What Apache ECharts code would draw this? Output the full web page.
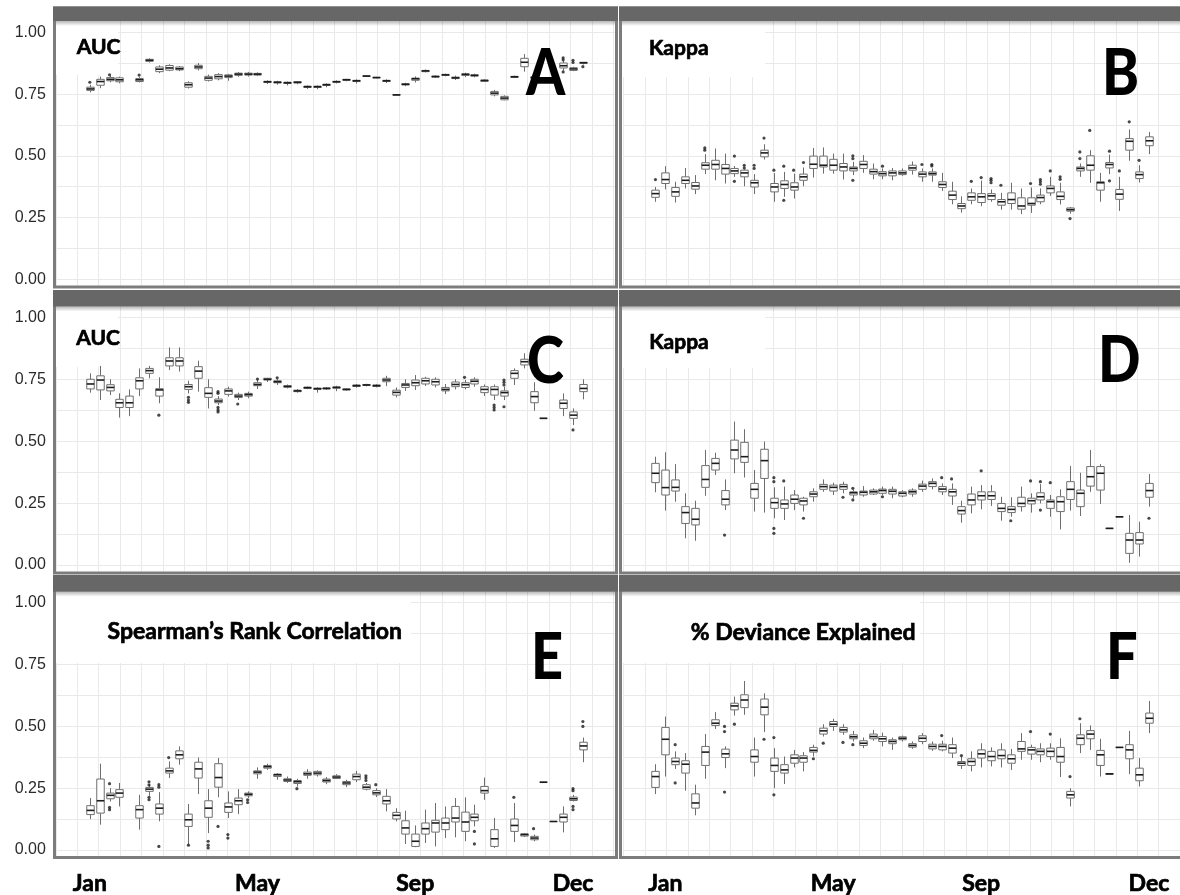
<!DOCTYPE html>
<html>
<head>
<meta charset="utf-8">
<script src="https://cdn.jsdelivr.net/npm/echarts@6/dist/echarts.min.js"></script>
<style>
html,body{margin:0;padding:0;background:#fff;}
#chart{width:1180px;height:895px;}
</style>
</head>
<body>
<div id="chart"></div>
<script>
// ---------------- DATA ----------------
const weeks = [1,2,3,4,5,6,7,8,9,10,11,12,13,14,15,16,17,18,19,20,21,22,23,24,25,26,27,28,29,30,31,32,33,34,35,36,37,38,39,40,41,42,43,44,45,46,47,48,49,50,51];
const monthLabels = ['Jan','May','Sep','Dec'];
const monthIdxLeft = [0,17,33,49];
const monthIdxRight = [1,18,33,50];
const yTickLabels = [0, 0.25, 0.5, 0.75, 1];
const panelTitles = ['AUC','Kappa','AUC','Kappa','Spearman\u2019s Rank Correlation','% Deviance Explained'];
const panelLetters = ['A','B','C','D','E','F'];

// each entry: [min, Q1, median, Q3, max] or null (no box that week)
const boxesA = [
[0.757,0.765,0.771,0.778,0.788],[0.774,0.786,0.801,0.810,0.821],[0.798,0.804,0.810,0.817,0.824],[0.794,0.800,0.808,0.816,0.821],null,
[0.797,0.801,0.808,0.813,0.819],[0.878,0.883,0.887,0.891,0.895],[0.835,0.841,0.851,0.860,0.867],[0.843,0.847,0.856,0.866,0.871],[0.843,0.848,0.853,0.860,0.864],
[0.773,0.778,0.788,0.796,0.802],[0.846,0.853,0.860,0.867,0.876],[0.801,0.806,0.815,0.822,0.829],[0.806,0.812,0.821,0.829,0.835],[0.804,0.817,0.823,0.828,0.832],
[0.820,0.826,0.831,0.835,0.839],[0.821,0.827,0.831,0.835,0.840],[0.823,0.827,0.831,0.834,0.838],[0.791,0.797,0.800,0.802,0.806],[0.788,0.795,0.798,0.800,0.804],
[0.785,0.793,0.796,0.798,0.801],[0.790,0.795,0.798,0.800,0.803],[0.771,0.777,0.780,0.782,0.785],[0.770,0.777,0.780,0.782,0.785],[0.778,0.785,0.788,0.790,0.794],
[0.793,0.798,0.800,0.802,0.806],[0.802,0.806,0.808,0.810,0.812],[0.793,0.801,0.804,0.806,0.810],[0.820,0.822,0.823,0.824,0.826],[0.814,0.816,0.817,0.818,0.820],
[0.795,0.801,0.804,0.806,0.810],[0.744,0.746,0.747,0.748,0.750],[0.782,0.787,0.790,0.792,0.796],[0.797,0.806,0.812,0.815,0.822],[0.838,0.841,0.844,0.846,0.850],
[0.815,0.819,0.821,0.823,0.826],[0.822,0.826,0.828,0.830,0.833],[0.807,0.813,0.816,0.819,0.825],[0.819,0.826,0.830,0.832,0.837],[0.818,0.823,0.826,0.828,0.833],
[0.799,0.802,0.805,0.807,0.810],[0.741,0.747,0.754,0.761,0.767],[0.725,0.727,0.734,0.741,0.745],[0.815,0.818,0.820,0.822,0.825],[0.841,0.861,0.879,0.895,0.912],
[0.810,0.814,0.817,0.820,0.824],null,null,[0.845,0.856,0.865,0.876,0.886],[0.843,0.846,0.852,0.857,0.861],
[0.870,0.875,0.877,0.879,0.880]
];
const outliersA = [[0,0.798],[2,0.828],[5,0.827],[48,0.897],[48,0.889],[48,0.840],[49,0.887],[49,0.878],[50,0.861]];

const boxesB = [
[0.314,0.332,0.347,0.361,0.374],[0.364,0.388,0.404,0.431,0.458],[0.311,0.336,0.354,0.372,0.395],[0.368,0.388,0.401,0.415,0.451],[0.345,0.365,0.378,0.392,0.422],
[0.426,0.446,0.462,0.472,0.507],[0.401,0.446,0.465,0.482,0.530],[0.388,0.426,0.449,0.465,0.509],[0.415,0.428,0.439,0.449,0.459],[0.377,0.415,0.431,0.442,0.446],
[0.345,0.374,0.391,0.401,0.426],[0.485,0.496,0.512,0.523,0.547],[0.314,0.354,0.374,0.388,0.430],[0.334,0.368,0.384,0.399,0.435],[0.327,0.361,0.374,0.391,0.428],
[0.377,0.401,0.415,0.426,0.453],[0.412,0.449,0.466,0.499,0.532],[0.428,0.455,0.462,0.499,0.534],[0.428,0.442,0.462,0.486,0.509],[0.404,0.439,0.455,0.469,0.509],
[0.422,0.439,0.449,0.455,0.476],[0.431,0.449,0.465,0.478,0.503],[0.405,0.426,0.436,0.446,0.469],[0.405,0.419,0.428,0.436,0.449],[0.401,0.419,0.431,0.439,0.451],
[0.419,0.424,0.431,0.439,0.449],[0.424,0.442,0.451,0.462,0.477],[0.395,0.415,0.426,0.435,0.449],[0.395,0.422,0.428,0.435,0.449],[0.358,0.372,0.384,0.395,0.431],
[0.304,0.323,0.341,0.357,0.395],[0.270,0.286,0.297,0.307,0.336],[0.304,0.320,0.334,0.350,0.368],[0.296,0.311,0.334,0.347,0.400],[0.314,0.323,0.338,0.347,0.364],
[0.282,0.300,0.314,0.323,0.350],[0.282,0.307,0.323,0.350,0.391],[0.264,0.284,0.297,0.330,0.368],[0.269,0.300,0.307,0.330,0.372],[0.304,0.314,0.331,0.341,0.368],
[0.338,0.350,0.368,0.378,0.415],[0.303,0.323,0.336,0.354,0.391],[0.266,0.276,0.282,0.289,0.293],[0.415,0.439,0.449,0.455,0.469],[0.391,0.442,0.462,0.500,0.523],
[0.314,0.361,0.391,0.395,0.431],[0.426,0.451,0.465,0.473,0.505],[0.277,0.324,0.345,0.364,0.415],[0.480,0.523,0.559,0.570,0.607],[0.392,0.408,0.424,0.435,0.462],
[0.507,0.541,0.561,0.577,0.597]
];
const outliersB = [[0,0.404],[5,0.532],[5,0.523],[8,0.499],[8,0.397],[9,0.462],[9,0.451],[10,0.462],[10,0.449],[11,0.572],[12,0.442],[13,0.458],[13,0.320],[14,0.442],[15,0.473],[20,0.500],[20,0.489],[20,0.401],[23,0.458],[27,0.465],[28,0.465],[28,0.459],[32,0.397],[33,0.412],[34,0.408],[34,0.401],[34,0.391],[35,0.381],[38,0.388],[39,0.404],[39,0.395],[39,0.385],[40,0.439],[41,0.415],[41,0.405],[42,0.246],[43,0.516],[43,0.489],[44,0.603],[46,0.519],[46,0.399],[47,0.439],[48,0.638],[49,0.482]];

const boxesC = [
[0.697,0.712,0.732,0.751,0.775],[0.667,0.708,0.748,0.765,0.805],[0.687,0.704,0.718,0.729,0.751],[0.596,0.637,0.656,0.670,0.694],[0.602,0.637,0.656,0.683,0.710],
[0.683,0.712,0.745,0.757,0.795],[0.755,0.775,0.786,0.795,0.805],[0.654,0.683,0.708,0.713,0.759],[0.788,0.805,0.825,0.838,0.880],[0.782,0.805,0.825,0.838,0.880],
[0.694,0.710,0.721,0.730,0.745],[0.701,0.755,0.784,0.802,0.826],[0.633,0.678,0.694,0.717,0.751],[0.647,0.656,0.663,0.671,0.683],[0.681,0.690,0.704,0.712,0.721],
[0.667,0.677,0.683,0.690,0.697],[0.674,0.683,0.689,0.694,0.701],[0.712,0.725,0.730,0.737,0.748],[0.740,0.748,0.751,0.755,0.757],[0.728,0.737,0.741,0.745,0.751],
[0.714,0.719,0.722,0.725,0.730],[0.697,0.701,0.704,0.707,0.712],[0.711,0.714,0.717,0.719,0.722],[0.697,0.710,0.713,0.715,0.719],[0.708,0.712,0.714,0.716,0.720],
[0.703,0.715,0.718,0.720,0.725],[0.705,0.708,0.710,0.712,0.714],[0.717,0.722,0.725,0.728,0.732],[0.722,0.726,0.728,0.730,0.733],[0.718,0.722,0.725,0.728,0.732],
[0.723,0.741,0.748,0.755,0.765],[0.678,0.687,0.698,0.707,0.718],[0.704,0.718,0.728,0.734,0.751],[0.708,0.725,0.737,0.748,0.768],[0.724,0.732,0.745,0.755,0.761],
[0.718,0.728,0.741,0.751,0.759],[0.691,0.704,0.710,0.718,0.732],[0.710,0.721,0.730,0.740,0.751],[0.710,0.718,0.729,0.737,0.748],[0.721,0.732,0.743,0.751,0.759],
[0.683,0.697,0.710,0.721,0.730],[0.667,0.687,0.710,0.721,0.730],[0.667,0.683,0.697,0.704,0.721],[0.728,0.755,0.775,0.786,0.795],[0.795,0.809,0.822,0.832,0.856],
[0.624,0.656,0.681,0.701,0.739],[0.593,0.593,0.593,0.593,0.593],null,[0.602,0.633,0.654,0.667,0.694],[0.566,0.593,0.606,0.619,0.633],
[0.670,0.701,0.714,0.730,0.751]
];
const outliersC = [[7,0.606],[10,0.678],[10,0.667],[10,0.658],[13,0.701],[13,0.694],[13,0.637],[13,0.627],[13,0.619],[15,0.651],[17,0.752],[19,0.757],[38,0.759],[41,0.647],[41,0.637],[41,0.627],[42,0.748],[42,0.739],[42,0.728],[42,0.640],[49,0.546]];

const boxesD = [
[0.294,0.333,0.371,0.411,0.438],[0.220,0.283,0.313,0.384,0.456],[0.256,0.299,0.314,0.344,0.408],[0.108,0.168,0.212,0.236,0.290],[0.098,0.162,0.185,0.229,0.260],
[0.280,0.314,0.346,0.402,0.465],[0.364,0.384,0.411,0.431,0.454],[0.222,0.243,0.266,0.301,0.346],[0.371,0.429,0.465,0.505,0.580],[0.354,0.415,0.438,0.496,0.549],
[0.216,0.270,0.306,0.330,0.384],[0.212,0.350,0.422,0.468,0.499],[0.189,0.229,0.252,0.270,0.314],[0.182,0.229,0.247,0.263,0.317],[0.222,0.249,0.266,0.283,0.303],
[0.216,0.243,0.259,0.270,0.276],[0.256,0.276,0.287,0.296,0.310],[0.296,0.306,0.317,0.326,0.346],[0.283,0.299,0.314,0.323,0.333],[0.290,0.306,0.317,0.326,0.337],
[0.270,0.283,0.292,0.296,0.305],[0.276,0.283,0.294,0.299,0.319],[0.283,0.287,0.296,0.303,0.310],[0.283,0.290,0.301,0.307,0.317],[0.270,0.287,0.298,0.306,0.317],
[0.274,0.279,0.290,0.296,0.303],[0.276,0.287,0.296,0.303,0.310],[0.296,0.306,0.319,0.327,0.341],[0.306,0.317,0.330,0.337,0.350],[0.283,0.296,0.307,0.317,0.330],
[0.243,0.279,0.296,0.306,0.330],[0.171,0.206,0.220,0.236,0.260],[0.209,0.243,0.263,0.287,0.317],[0.225,0.263,0.280,0.296,0.323],[0.239,0.265,0.280,0.296,0.323],
[0.179,0.216,0.229,0.249,0.276],[0.195,0.212,0.225,0.236,0.274],[0.216,0.236,0.249,0.274,0.317],[0.212,0.247,0.260,0.270,0.290],[0.249,0.263,0.276,0.292,0.327],
[0.195,0.229,0.256,0.263,0.283],[0.144,0.216,0.256,0.276,0.306],[0.220,0.265,0.306,0.337,0.400],[0.198,0.236,0.290,0.303,0.373],[0.296,0.319,0.357,0.398,0.465],
[0.247,0.303,0.371,0.398,0.408],[0.148,0.148,0.148,0.148,0.148],[0.195,0.195,0.195,0.195,0.195],[0.009,0.047,0.101,0.128,0.202],[0.034,0.085,0.101,0.131,0.175],
[0.236,0.274,0.301,0.330,0.368]
];
const outliersD = [[7,0.121],[12,0.353],[12,0.337],[12,0.148],[12,0.128],[13,0.340],[15,0.189],[19,0.274],[20,0.310],[20,0.263],[23,0.276],[29,0.353],[30,0.348],[33,0.381],[36,0.179],[38,0.340],[39,0.337],[39,0.222],[40,0.333],[50,0.189]];

const boxesE = [
[0.124,0.142,0.159,0.178,0.209],[0.101,0.148,0.198,0.286,0.348],[0.195,0.206,0.220,0.229,0.249],[0.175,0.212,0.229,0.243,0.270],null,
[0.081,0.128,0.162,0.178,0.222],[0.218,0.236,0.245,0.252,0.265],[0.115,0.144,0.168,0.185,0.233],[0.290,0.310,0.319,0.330,0.357],[0.344,0.368,0.384,0.400,0.418],
[0.020,0.094,0.121,0.144,0.185],[0.225,0.290,0.327,0.354,0.373],[0.067,0.131,0.168,0.198,0.245],[0.212,0.253,0.292,0.348,0.371],[0.128,0.151,0.173,0.189,0.236],
[0.144,0.182,0.198,0.209,0.245],[0.209,0.218,0.224,0.229,0.236],[0.287,0.307,0.314,0.319,0.333],[0.323,0.330,0.336,0.341,0.348],[0.283,0.296,0.303,0.306,0.310],
[0.270,0.276,0.282,0.287,0.296],[0.255,0.268,0.275,0.280,0.287],[0.287,0.301,0.307,0.314,0.326],[0.296,0.303,0.310,0.317,0.321],[0.265,0.274,0.280,0.286,0.294],
[0.286,0.288,0.294,0.299,0.306],[0.253,0.263,0.270,0.276,0.283],[0.274,0.283,0.296,0.306,0.319],[0.240,0.245,0.253,0.263,0.270],[0.213,0.222,0.230,0.239,0.249],
[0.155,0.185,0.198,0.216,0.245],[0.115,0.124,0.139,0.151,0.168],[0.023,0.063,0.088,0.117,0.158],[0.010,0.013,0.034,0.063,0.098],[0.027,0.063,0.085,0.108,0.162],
[0.013,0.071,0.108,0.119,0.189],[0.047,0.081,0.108,0.128,0.175],[0.050,0.112,0.128,0.175,0.209],[0.034,0.074,0.112,0.152,0.212],[0.094,0.117,0.131,0.144,0.182],
[0.202,0.229,0.239,0.256,0.292],[0.007,0.013,0.044,0.081,0.128],null,[0.031,0.074,0.098,0.124,0.189],[0.051,0.055,0.061,0.064,0.067],
[0.034,0.040,0.047,0.054,0.061],[0.273,0.273,0.273,0.273,0.273],[0.114,0.114,0.114,0.114,0.114],[0.070,0.112,0.131,0.144,0.175],[0.195,0.199,0.206,0.213,0.222],
[0.354,0.404,0.420,0.435,0.454]
];
const outliersE = [[2,0.267],[2,0.171],[2,0.162],[6,0.275],[6,0.262],[6,0.212],[6,0.202],[7,0.263],[7,0.253],[7,0.013],[8,0.373],[10,0.018],[12,0.034],[12,0.018],[12,0.007],[13,0.094],[14,0.061],[14,0.047],[16,0.202],[16,0.191],[21,0.247],[28,0.299],[28,0.290],[28,0.280],[29,0.263],[39,0.074],[39,0.023],[43,0.212],[45,0.085],[49,0.247],[49,0.239],[49,0.175],[49,0.162],[50,0.519],[50,0.499]];

const boxesF = [
[0.225,0.252,0.296,0.317,0.346],[0.296,0.384,0.447,0.495,0.539],[0.327,0.344,0.357,0.371,0.398],[0.239,0.310,0.346,0.360,0.391],[0.139,0.168,0.189,0.226,0.263],
[0.287,0.341,0.395,0.418,0.468],[0.489,0.503,0.512,0.526,0.557],[0.330,0.373,0.388,0.407,0.418],[0.543,0.566,0.582,0.593,0.620],[0.546,0.575,0.606,0.627,0.683],
[0.296,0.354,0.377,0.404,0.454],[0.476,0.546,0.577,0.610,0.633],[0.249,0.317,0.341,0.371,0.411],[0.266,0.310,0.323,0.344,0.377],[0.333,0.350,0.371,0.384,0.404],
[0.317,0.354,0.371,0.380,0.395],[0.377,0.395,0.402,0.414,0.425],[0.458,0.468,0.481,0.492,0.508],[0.481,0.499,0.508,0.519,0.530],[0.465,0.476,0.485,0.495,0.508],
[0.438,0.449,0.457,0.465,0.481],[0.411,0.422,0.431,0.441,0.454],[0.441,0.449,0.458,0.468,0.485],[0.418,0.438,0.449,0.458,0.474],[0.404,0.429,0.438,0.445,0.454],
[0.438,0.445,0.451,0.457,0.462],[0.408,0.415,0.422,0.429,0.438],[0.427,0.438,0.451,0.461,0.472],[0.400,0.408,0.418,0.427,0.438],[0.398,0.404,0.418,0.427,0.441],
[0.371,0.391,0.411,0.425,0.454],[0.327,0.341,0.350,0.357,0.377],[0.317,0.341,0.357,0.368,0.398],[0.333,0.371,0.388,0.404,0.431],[0.337,0.360,0.377,0.398,0.414],
[0.333,0.368,0.381,0.404,0.431],[0.323,0.350,0.368,0.384,0.408],[0.364,0.398,0.408,0.438,0.472],[0.364,0.387,0.404,0.414,0.425],[0.354,0.384,0.398,0.408,0.431],
[0.364,0.377,0.398,0.411,0.431],[0.294,0.354,0.377,0.414,0.451],[0.175,0.209,0.222,0.236,0.249],[0.391,0.425,0.451,0.465,0.512],[0.404,0.449,0.468,0.482,0.503],
[0.296,0.341,0.384,0.402,0.449],[0.303,0.305,0.307,0.308,0.310],[0.414,0.414,0.414,0.414,0.414],[0.306,0.368,0.404,0.425,0.481],[0.256,0.279,0.303,0.330,0.371],
[0.472,0.512,0.532,0.553,0.602]
];
const outliersF = [[2,0.425],[2,0.270],[7,0.499],[7,0.478],[7,0.233],[8,0.508],[11,0.447],[12,0.454],[12,0.222],[16,0.368],[17,0.431],[19,0.434],[20,0.425],[29,0.462],[31,0.381],[38,0.478],[40,0.468],[42,0.296],[43,0.530]];

// ---------------- LAYOUT ----------------
const VSTEP = 21.45;
const COLS = {
  L: {x0: 53, x1: 618, vStart: 55.8, dataLeft: 84.9, dataWidth: 502.9, showY: true, monthIdx: monthIdxLeft},
  R: {x0: 619, x1: 1186, vStart: 623.6, dataLeft: 650.5, dataWidth: 503.4, showY: false, monthIdx: monthIdxRight}
};
const ROWS = [
  {top: 6.5, strip: 14.5, bottom: 288.5, y1: 32.4, y0: 279.3},
  {top: 290, strip: 16.5, bottom: 574.5, y1: 317.7, y0: 565},
  {top: 575, strip: 16.7, bottom: 859, y1: 602.7, y0: 850}
];
const PANELS = [
  {col:'L', row:0, boxes:boxesA, outliers:outliersA, tx:76.7, tcy:47.5, tsize:21, lx:526, lcy:74.5, patch:[56,21,62,54]},
  {col:'R', row:0, boxes:boxesB, outliers:outliersB, tx:649, tcy:48.5, tsize:21, lx:1102, lcy:73.7, patch:[622,21,143,56]},
  {col:'L', row:1, boxes:boxesC, outliers:outliersC, tx:76.3, tcy:338.3, tsize:21, lx:527, lcy:362.2, patch:[56,307,62,60]},
  {col:'R', row:1, boxes:boxesD, outliers:outliersD, tx:649.2, tcy:342, tsize:21, lx:1098, lcy:361.5, patch:[622,307,143,61]},
  {col:'L', row:2, boxes:boxesE, outliers:outliersE, tx:107.5, tcy:631.3, tsize:23, lx:531, lcy:658.3, patch:[56,592,355,71]},
  {col:'R', row:2, boxes:boxesF, outliers:outliersF, tx:1106, tcy:632.8, tsize:23, lx:1106, lcy:658.3, patch:[622,592,298,71]}
];
PANELS[5].tx = 690.7;

function renderBox(params, api) {
  const x = api.value(0);
  const lo = api.coord([x, api.value(1)]);
  const q1 = api.coord([x, api.value(2)]);
  const md = api.coord([x, api.value(3)]);
  const q3 = api.coord([x, api.value(4)]);
  const hi = api.coord([x, api.value(5)]);
  const hw = api.size([1, 0])[0] * 0.38;
  const cx = Math.round(md[0]) + 0.5;
  const stroke = '#6e6e6e';
  return {
    type: 'group',
    children: [
      {type:'line', shape:{x1:cx, y1:hi[1], x2:cx, y2:q3[1]}, style:{stroke:stroke, lineWidth:1}},
      {type:'line', shape:{x1:cx, y1:q1[1], x2:cx, y2:lo[1]}, style:{stroke:stroke, lineWidth:1}},
      {type:'rect', shape:{x:cx-hw, y:q3[1], width:2*hw, height:Math.max(q1[1]-q3[1], 0)}, style:{fill:'#ffffff', stroke:stroke, lineWidth:1}},
      {type:'line', shape:{x1:cx-hw, y1:md[1], x2:cx+hw, y2:md[1]}, style:{stroke:'#1c1c1c', lineWidth:1.6}}
    ]
  };
}

const grids = [], xAxes = [], yAxes = [], series = [], graphics = [];
const gridLineColor = '#e9e9e9';

PANELS.forEach(function (p, i) {
  const c = COLS[p.col], r = ROWS[p.row];
  const gV = 3*i, gH = 3*i+1, gD = 3*i+2;
  // vertical grid lines
  grids.push({left: c.vStart, top: r.top + r.strip, width: 26*VSTEP, height: r.bottom - 3 - (r.top + r.strip)});
  xAxes.push({gridIndex: gV, type:'value', min:0, max:26, interval:1, axisLine:{show:false}, axisTick:{show:false}, axisLabel:{show:false}, splitLine:{show:true, lineStyle:{color:gridLineColor, width:1}}});
  yAxes.push({gridIndex: gV, type:'value', min:0, max:1, show:false});
  // horizontal grid lines + y labels
  grids.push({left: c.vStart, top: r.y1, width: (c.x1 - 3) - c.vStart, height: r.y0 - r.y1});
  xAxes.push({gridIndex: gH, type:'value', min:0, max:1, show:false});
  yAxes.push({gridIndex: gH, type:'value', min:0, max:1, interval:0.125,
    axisLine:{show:false}, axisTick:{show:false},
    splitLine:{show:true, lineStyle:{color:gridLineColor, width:1}},
    axisLabel:{show:c.showY, margin:10, color:'#2a2a2a', fontSize:16, fontFamily:'Liberation Sans, Arial, sans-serif',
      formatter:function (v) { return yTickLabels.some(function (t) { return Math.abs(t - v) < 1e-6; }) ? v.toFixed(2) : ''; }}
  });
  // data grid
  grids.push({left: c.dataLeft, top: r.y1, width: c.dataWidth, height: r.y0 - r.y1});
  xAxes.push({gridIndex: gD, type:'category', data: weeks, boundaryGap:true,
    axisLine:{show:false}, axisTick:{show:false}, splitLine:{show:false},
    axisLabel: p.row === 2 ? {
      show:true, margin:22, color:'#000', fontSize:23, fontWeight:'bold', fontFamily:'Lato, Open Sans, sans-serif',
      textBorderColor:'#000', textBorderWidth:0.7,
      interval:function (idx) { return c.monthIdx.indexOf(idx) >= 0; },
      formatter:function (val, idx) { const k = c.monthIdx.indexOf(idx); return k >= 0 ? monthLabels[k] : ''; }
    } : {show:false}
  });
  yAxes.push({gridIndex: gD, type:'value', min:0, max:1, show:false});

  const boxData = [];
  p.boxes.forEach(function (b, k) { if (b) boxData.push([k].concat(b)); });
  series.push({type:'custom', xAxisIndex:gD, yAxisIndex:gD, renderItem:renderBox, data:boxData,
    encode:{x:0, y:[1,2,3,4,5]}, silent:true, z:3});
  series.push({type:'scatter', xAxisIndex:gD, yAxisIndex:gD, data:p.outliers, symbol:'circle', symbolSize:3.2,
    itemStyle:{color:'#1a1a1a'}, silent:true, z:4});

  // decorations
  graphics.push({type:'rect', z:1, silent:true, shape:{x:p.patch[0], y:p.patch[1], width:p.patch[2], height:p.patch[3]}, style:{fill:'#ffffff'}});
  graphics.push({type:'rect', z:10, silent:true, shape:{x:c.x0+1.5, y:r.top+1.5, width:c.x1-c.x0-3, height:r.bottom-r.top-3}, style:{fill:'none', stroke:'#7c7c7c', lineWidth:3}});
  graphics.push({type:'rect', z:11, silent:true, shape:{x:c.x0, y:r.top, width:c.x1-c.x0, height:r.strip}, style:{fill:'#676767'}});
  graphics.push({type:'rect', z:11, silent:true, shape:{x:c.x0+3, y:r.top+r.strip, width:c.x1-c.x0-6, height:5},
    style:{fill:new echarts.graphic.LinearGradient(0,0,0,1,[{offset:0,color:'rgba(0,0,0,0.28)'},{offset:1,color:'rgba(0,0,0,0)'}])}});
  graphics.push({type:'text', z:12, silent:true, x:p.tx, y:p.tcy, style:{text:panelTitles[i], fill:'#000',
    stroke:'#000', lineWidth:0.7,
    font:'bold ' + p.tsize + 'px Lato, "Open Sans", sans-serif', textAlign:'left', textVerticalAlign:'middle'}});
  graphics.push({type:'text', z:12, silent:true, x:p.lx, y:p.lcy, scaleX:0.86, style:{text:panelLetters[i], fill:'#000',
    font:'900 65px Lato, "Open Sans", sans-serif', textAlign:'left', textVerticalAlign:'middle'}});
});

const chart = echarts.init(document.getElementById('chart'), null, {renderer:'canvas'});
chart.setOption({
  animation:false,
  backgroundColor:'#ffffff',
  grid:grids, xAxis:xAxes, yAxis:yAxes, series:series,
  graphic:{elements:graphics}
});
</script>
</body>
</html>
